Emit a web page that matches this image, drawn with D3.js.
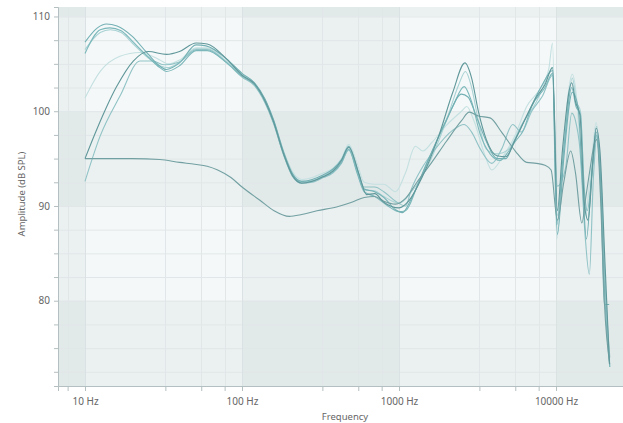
<!DOCTYPE html>
<html lang="en">
<head>
<meta charset="utf-8">
<title>Frequency response</title>
<script src="https://cdn.jsdelivr.net/npm/d3@7/dist/d3.min.js"></script>
<style>
  body { margin: 0; background: #fff; }
  text { font-family: "Segoe UI", "Noto Sans", "Open Sans", sans-serif; fill: #666; }
</style>
</head>
<body>
<script>
/* measurements, [Hz, dB SPL] */
var curveA1 = [[10,107.3],[12,108.8],[13.7,109.2],[16,109.0],[20,107.9],[24.7,106.2],[30,104.75],[33,104.4],[40,105.1],[51,107.0],[59,106.9],[80,105.5],
  [100,104.0],[120,103.0],[140,101.3],[158,99.2],[185,95.6],[210,93.4],[240,92.6],[280,92.8],[330,93.3],[380,93.9],[430,94.9],[478,96.3],
  [540,94.0],[600,91.8],[700,91.5],[800,90.9],[950,89.6],[1050,89.3],[1200,90.8],[1500,94.5],[2000,99.0],[2500,101.8],[2750,101.5],[3100,99.5],
  [3600,96.8],[4200,95.0],[4800,95.0],[5300,96.5],[6500,99.5],[8000,102.5],[9500,104.3],[10200,87.0],[11200,95.0],[12700,102.0],[13800,100.5],
  [14800,92.0],[15600,86.5],[17000,94.0],[18000,97.8],[19200,93.0],[20300,79.6],[21800,79.6]];
var curveA2 = [[10,106.1],[12.5,108.6],[14.4,108.8],[17,108.5],[20,107.4],[25,105.8],[30,104.6],[33,104.2],[40,104.8],[51,106.4],[60,106.4],[80,105.1],
  [100,103.7],[120,102.8],[140,101.0],[158,98.9],[185,95.3],[210,93.2],[240,92.5],[280,92.6],[330,93.1],[380,93.6],[430,94.6],[478,96.0],
  [540,93.5],[600,91.5],[700,91.0],[850,90.0],[1000,89.4],[1100,89.5],[1300,92.0],[1700,96.5],[2200,100.5],[2600,102.6],[2900,101.0],[3300,97.5],
  [3800,95.5],[4400,94.8],[5000,95.8],[5500,96.8],[6200,98.0],[7000,100.5],[8500,102.5],[9500,104.0],[10100,88.0],[11200,96.0],[12600,102.5],
  [13400,100.5],[14300,99.7],[15100,92.0],[15800,89.5],[17200,94.5],[18000,97.5],[19300,92.0],[20500,80.0],[22000,73.0]];
var curveB = [[10,101.4],[12.5,104.2],[16.7,105.8],[22.4,106.2],[28.6,105.6],[34,105.0],[40,105.4],[51,106.7],[60,106.7],[80,105.3],
  [100,103.9],[120,102.9],[140,101.2],[158,99.1],[185,95.7],[210,93.6],[240,92.8],[280,93.0],[330,93.5],[380,94.0],[430,95.0],[478,96.5],
  [540,94.5],[600,92.5],[700,92.3],[800,92.3],[950,91.5],[1100,93.5],[1270,96.3],[1420,95.8],[1620,96.7],[2000,98.5],[2500,100.0],[2700,100.5],
  [3000,99.0],[3500,95.5],[3900,93.8],[4500,95.0],[5500,97.5],[6500,100.5],[8000,102.5],[9000,104.5],[9500,107.2],[10100,86.5],[11000,95.0],
  [12700,103.9],[13500,101.5],[14500,94.0],[15300,89.0],[16500,93.0],[18000,98.8],[19500,92.0],[21000,78.0],[22000,73.5]];
var curveC = [[10,95.0],[11.9,98.1],[15.9,102.6],[20.3,105.3],[25.3,106.3],[33,106.0],[40,106.3],[51,107.2],[60,107.1],[80,105.5],
  [100,103.8],[120,102.9],[140,101.1],[158,99.0],[185,95.4],[210,93.2],[240,92.4],[280,92.6],[330,93.1],[380,93.7],[430,94.8],[478,96.2],
  [560,93.2],[620,91.2],[700,91.3],[800,90.4],[1000,89.8],[1150,90.5],[1400,93.0],[1800,97.5],[2200,102.0],[2630,105.1],[2900,103.5],[3200,100.0],
  [3600,97.0],[4200,95.3],[4800,95.2],[5500,97.0],[6500,99.5],[7500,101.5],[8500,102.8],[9500,104.6],[10200,89.5],[11000,96.0],[12600,103.0],
  [13300,101.0],[14200,99.6],[15200,90.0],[16000,88.5],[17200,95.0],[18000,98.2],[19000,96.0],[20500,84.0],[21900,73.3]];
var curveD = [[10,92.6],[12.5,97.4],[16.7,101.6],[22.4,105.3],[27,105.3],[32,104.9],[40,105.2],[51,106.5],[60,106.5],[80,105.1],
  [100,103.6],[120,102.7],[140,100.9],[158,98.8],[185,95.3],[210,93.1],[240,92.4],[280,92.5],[330,93.0],[380,93.5],[430,94.5],[478,95.9],
  [540,93.8],[600,92.0],[700,92.0],[800,91.5],[950,90.5],[1100,90.0],[1200,91.8],[1400,94.0],[1700,96.0],[2200,98.0],[2600,98.6],[2900,97.8],
  [3300,96.0],[3900,94.5],[4500,96.0],[5300,98.6],[6000,97.8],[7000,100.0],[8200,101.6],[9500,103.8],[10200,92.1],[11500,94.0],[12600,99.8],
  [13300,99.0],[14200,96.0],[15300,87.0],[16300,82.8],[17300,93.0],[18200,97.4],[19500,90.0],[20800,80.0],[22000,74.0]];
var curveE = [[10,95.0],[15,95.0],[20,95.0],[30,94.9],[40,94.6],[50,94.4],[60,94.2],[70,93.8],[85,93.0],[100,92.0],[130,90.6],[160,89.5],
  [200,88.9],[240,89.1],[300,89.5],[400,89.9],[500,90.4],[600,90.9],[700,91.0],[800,90.5],[950,90.2],[1100,90.8],[1300,92.5],[1600,94.5],
  [2000,96.8],[2500,99.0],[2800,99.9],[3200,99.5],[3800,99.3],[4500,97.8],[5500,95.8],[6500,94.6],[7500,94.5],[8500,94.3],[9300,93.8],
  [10200,88.5],[11200,92.5],[12400,95.8],[13300,93.5],[14600,88.2],[15500,91.0],[16500,94.0],[17500,96.5],[18200,97.0],[19300,90.0],[20300,80.0],[22000,73.3]];
var curveF = [[10,106.5],[12.5,108.3],[14.5,108.6],[17,108.3],[20,107.2],[25,105.7],[30,104.8],[34,104.6],[40,105.2],[51,106.6],[60,106.6],[80,105.2],
  [100,103.9],[120,103.0],[140,101.2],[158,99.1],[185,95.5],[210,93.3],[240,92.6],[280,92.7],[330,93.2],[380,93.8],[430,94.8],[478,96.2],
  [540,93.6],[600,91.7],[700,91.6],[800,91.0],[1000,90.3],[1200,91.5],[1500,94.0],[2000,99.0],[2400,102.8],[2650,104.2],[2900,102.5],[3200,99.0],
  [3600,96.0],[4200,95.5],[5000,96.0],[6000,98.5],[7500,101.0],[8500,103.0],[9500,104.6],[10200,89.0],[11300,96.5],[12700,103.5],[13500,101.0],
  [14300,100.0],[15200,91.0],[15900,88.5],[17200,95.0],[18100,98.4],[19300,93.0],[20500,82.0],[22000,73.0]];

var curves = [curveB, curveF, curveD, curveA2, curveA1, curveE, curveC];
var curveColors = ["#c4e0e1", "#a8d2d4", "#90c3c6", "#7cb8bb", "#72b0b4", "#72a0a2", "#5f979a"];

var xTicks = [10, 100, 1000, 10000];
var xTickLabels = ["10 Hz", "100 Hz", "1000 Hz", "10000 Hz"];
var xMinorTicks = [7.75, 32.5, 55, 77.5, 325, 550, 775, 3250, 5500, 7750];
var yTicks = [80, 90, 100, 110];
var yMinorTicks = [72.5, 75, 77.5, 82.5, 85, 87.5, 92.5, 95, 97.5, 102.5, 105, 107.5];

var margin = {top: 7, right: 0, bottom: 37, left: 58};
var width = 623 - margin.left - margin.right;
var height = 423 - margin.top - margin.bottom;

var x = d3.scaleLog().domain([6.73, 26700]).range([0, width]);
var y = d3.scaleLinear().domain([71, 111]).range([height, 0]);

var svg = d3.select("body").append("svg")
  .attr("width", 623)
  .attr("height", 423);
var g = svg.append("g")
  .attr("transform", "translate(" + margin.left + "," + margin.top + ")");

/* plot background with alternating decade / 10 dB bands */
g.append("rect").attr("width", width).attr("height", height).attr("fill", "#f5f8f8");
var xEdges = [x.domain()[0]].concat(xTicks, [x.domain()[1]]);
for (var i = 0; i < xEdges.length - 1; i += 2) {
  g.append("rect")
    .attr("x", x(xEdges[i])).attr("width", x(xEdges[i + 1]) - x(xEdges[i]))
    .attr("y", 0).attr("height", height)
    .attr("fill", "rgba(120,145,150,0.075)");
}
var yEdges = [y.domain()[0]].concat(yTicks, [y.domain()[1]]);
for (var j = 0; j < yEdges.length - 1; j += 2) {
  g.append("rect")
    .attr("x", 0).attr("width", width)
    .attr("y", y(yEdges[j + 1])).attr("height", y(yEdges[j]) - y(yEdges[j + 1]))
    .attr("fill", "rgba(120,145,150,0.075)");
}

/* grid */
g.selectAll(".hgrid").data(yMinorTicks.concat(yTicks)).enter().append("line")
  .attr("x1", 0).attr("x2", width)
  .attr("y1", function(d) { return y(d) + 0.5; }).attr("y2", function(d) { return y(d) + 0.5; })
  .attr("stroke", "#e1e7e8").attr("stroke-width", 1);
g.selectAll(".vgrid").data(xMinorTicks).enter().append("line")
  .attr("x1", function(d) { return Math.round(x(d)) + 0.5; }).attr("x2", function(d) { return Math.round(x(d)) + 0.5; })
  .attr("y1", 0).attr("y2", height)
  .attr("stroke", "#e1e7e8").attr("stroke-width", 1);
g.selectAll(".vmajor").data(xTicks).enter().append("line")
  .attr("x1", function(d) { return Math.round(x(d)) + 0.5; }).attr("x2", function(d) { return Math.round(x(d)) + 0.5; })
  .attr("y1", 0).attr("y2", height)
  .attr("stroke", "#dbe2e3").attr("stroke-width", 1);

/* curves */
g.append("clipPath").attr("id", "plotclip")
  .append("rect").attr("width", width).attr("height", height);
var line = d3.line()
  .x(function(d) { return x(d[0]); })
  .y(function(d) { return y(d[1]); })
  .curve(d3.curveMonotoneX);
g.append("g").attr("clip-path", "url(#plotclip)")
  .selectAll("path").data(curves).enter().append("path")
  .attr("d", line)
  .attr("fill", "none")
  .attr("stroke", function(d, k) { return curveColors[k]; })
  .attr("stroke-width", 1.1);

/* axes */
var xAxis = d3.axisBottom(x).tickValues(xTicks.concat(xMinorTicks))
  .tickSize(5).tickPadding(7)
  .tickFormat(function(d) { var k = xTicks.indexOf(d); return k < 0 ? "" : xTickLabels[k]; });
var gx = g.append("g").attr("transform", "translate(0," + height + ")").call(xAxis);
var yAxis = d3.axisLeft(y).tickValues(yTicks.concat(yMinorTicks))
  .tickSize(4).tickPadding(4)
  .tickFormat(function(d) { return yTicks.indexOf(d) < 0 ? "" : d; });
var gy = g.append("g").call(yAxis);
[gx, gy].forEach(function(a) {
  a.select(".domain").attr("stroke", "#b4bfc1");
  a.selectAll(".tick line").attr("stroke", "#b4bfc1");
  a.selectAll(".tick text").attr("fill", "#666").style("font-size", "10px")
    .style("font-family", "'Segoe UI', 'Noto Sans', sans-serif");
});

/* titles */
svg.append("text")
  .attr("x", 345).attr("y", 420)
  .attr("text-anchor", "middle")
  .style("font-size", "9.5px")
  .text("Frequency");
svg.append("text")
  .attr("transform", "translate(25,194) rotate(-90)")
  .attr("text-anchor", "middle")
  .style("font-size", "9.5px")
  .text("Amplitude (dB SPL)");
</script>
</body>
</html>
